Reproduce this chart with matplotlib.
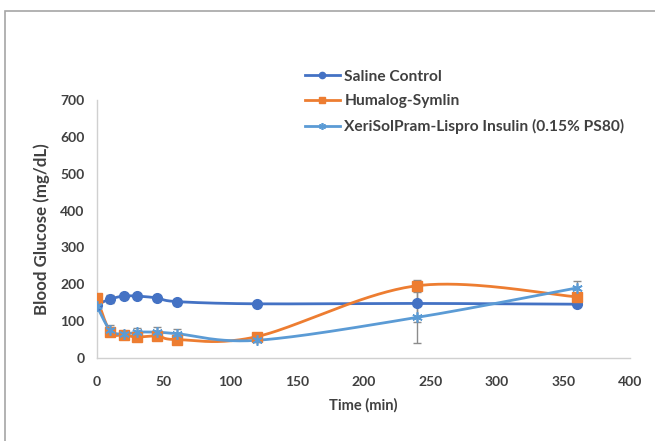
import numpy as np
import matplotlib
matplotlib.use("Agg")
import matplotlib.pyplot as plt
from matplotlib.patches import Rectangle

# Sampling times (min)
time_min = [0, 10, 20, 30, 45, 60, 120, 240, 360]

# Mean blood glucose (mg/dL) and error for each group
saline = [145, 160, 168, 168, 163, 153, 147, 148, 146]
saline_err = [5, 10, 6, 5, 6, 8, 4, 50, 5]

humalog = [162, 70, 63, 57, 60, 50, 58, 196, 166]
humalog_err = [5, 5, 4, 5, 5, 4, 5, 15, 10]

xerisol = [140, 75, 65, 70, 70, 66, 48, 110, 190]
xerisol_err = [8, 15, 8, 12, 14, 12, 5, 70, 18]

series_names = ["Saline Control", "Humalog-Symlin",
                "XeriSolPram-Lispro Insulin (0.15% PS80)"]

x_ticks = [0, 50, 100, 150, 200, 250, 300, 350, 400]
y_ticks = [0, 100, 200, 300, 400, 500, 600, 700]

FONT = "Lato"
TXT = "#404040"


def smooth_curve(x, y, n=40):
    """Catmull-Rom style cubic Bezier smoothing through every point."""
    P = np.column_stack([x, y]).astype(float)
    out = [P[:1]]
    m = len(P)
    for i in range(m - 1):
        p0 = P[i - 1] if i > 0 else P[i]
        p1, p2 = P[i], P[i + 1]
        p3 = P[i + 2] if i + 2 < m else P[i + 1]
        c1 = p1 + (p2 - p0) / 6.0
        c2 = p2 - (p3 - p1) / 6.0
        t = np.linspace(0, 1, n)[1:, None]
        seg = ((1 - t) ** 3) * p1 + 3 * ((1 - t) ** 2) * t * c1 \
            + 3 * (1 - t) * t ** 2 * c2 + t ** 3 * p2
        out.append(seg)
    pts = np.vstack(out)
    return pts[:, 0], pts[:, 1]


fig = plt.figure(figsize=(6.55, 4.41), dpi=100)
fig.patch.set_facecolor("white")

# Chart-area border
fig.patches.append(Rectangle((5 / 655, -0.1), 1.2, (441 - 11) / 441 + 0.1,
                             transform=fig.transFigure, fill=False,
                             edgecolor="#a6a6a6", linewidth=1.2))

ax = fig.add_axes([97 / 655, (441 - 358) / 441,
                   (630 - 97) / 655, (358 - 100) / 441])

styles = [
    (saline, saline_err, "#4472C4", dict(marker="o", markersize=7)),
    (humalog, humalog_err, "#ED7D31", dict(marker="s", markersize=7)),
    (xerisol, xerisol_err, "#5B9BD5", dict(marker=(6, 2, 0), markersize=7.5,
                                           markeredgewidth=1.2)),
]

handles = []
for (vals, errs, color, mk), name in zip(styles, series_names):
    ax.errorbar(time_min, vals, yerr=errs, fmt="none", ecolor="#8c8c8c",
                elinewidth=1.0, capsize=3, capthick=1.0, zorder=2)
    sx, sy = smooth_curve(time_min, vals)
    ax.plot(sx, sy, color=color, linewidth=2.0, zorder=3)
    ax.plot(time_min, vals, linestyle="none", color=color,
            markeredgecolor=color, zorder=4, **mk)
    h, = ax.plot([], [], color=color, linewidth=2.0, markeredgecolor=color,
                 **{**mk, "markersize": mk["markersize"] - 2.5})
    handles.append(h)

ax.set_xlim(0, 400)
ax.set_ylim(0, 700)
ax.set_xticks(x_ticks)
ax.set_yticks(y_ticks)
ax.set_xticklabels([str(v) for v in x_ticks], fontfamily=FONT,
                   fontweight="bold", fontsize=10, color=TXT)
ax.set_yticklabels([str(v) for v in y_ticks], fontfamily=FONT,
                   fontweight="bold", fontsize=10, color=TXT)
ax.tick_params(axis="both", length=0, pad=9)
ax.tick_params(axis="x", pad=13)

for side in ("top", "right"):
    ax.spines[side].set_visible(False)
for side in ("left", "bottom"):
    ax.spines[side].set_color("#d0d0d0")
    ax.spines[side].set_linewidth(1.0)

ax.set_xlabel("Time (min)", fontfamily=FONT, fontweight="bold",
              fontsize=10.5, color=TXT, labelpad=7)
ax.set_ylabel("Blood Glucose (mg/dL)", fontfamily=FONT, fontweight="bold",
              fontsize=12.2, color=TXT, labelpad=7)

leg = ax.legend(handles, series_names, loc="upper left",
                bbox_to_anchor=(0.378, 1.141), frameon=False,
                prop=dict(family=FONT, weight="bold", size=11.2),
                handlelength=2.25, handletextpad=0.3, labelspacing=0.68,
                borderaxespad=0)
for t in leg.get_texts():
    t.set_color(TXT)

fig.savefig("out.png", dpi=100)
